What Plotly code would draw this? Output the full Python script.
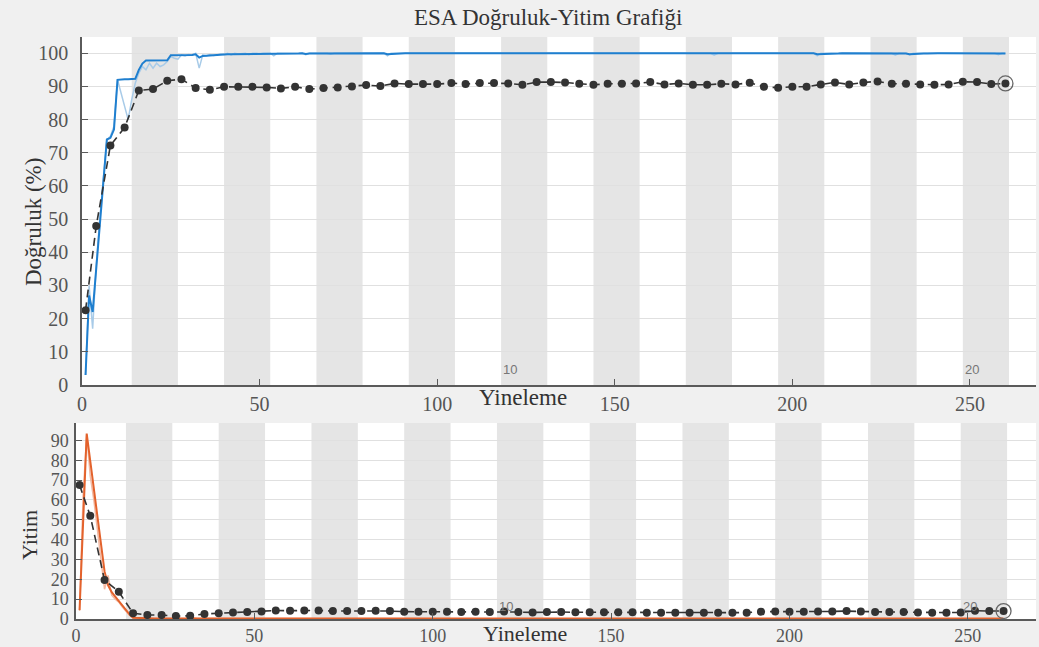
import plotly.graph_objects as go

# ---------------- data ----------------
iterations = list(range(1, 261))
iters_per_epoch = 13
n_epochs = 20
epoch_labels = ["10", "20"]
epoch_label_at = [10, 20]

acc_raw = [
    3, 30, 17, 36, 50, 63, 74, 75, 78, 92, 88, 84, 80,
    86, 91, 94, 96, 95, 97, 95.5, 97, 96, 96.5, 97.5, 99, 98.5,
    98.2, 99.5, 99.2, 99.6, 99.5, 100, 95.5, 99.5, 99.2, 99.6, 99.3, 99.5, 99.8,
    99.6, 100, 99.5, 100, 99.8, 100, 100, 99.6, 100, 100, 99.8, 100, 100,
    100, 99.2, 100, 100, 100, 99.8, 100, 100, 100, 100, 99.6, 100, 100,
    100, 100, 100, 100, 99.7, 100, 100, 100, 100, 100, 100, 100, 100,
    100, 100, 100, 100, 100, 100, 100, 99.2, 100, 100, 100, 100, 100,
    100, 100, 100, 100, 100, 99.8, 100, 100, 100, 100, 100, 100, 100,
    100, 100, 100, 100, 100, 100, 100, 100, 100, 99.8, 100, 100, 100,
    100, 100, 100, 100, 100, 100, 100, 100, 100, 100, 100, 100, 100,
    100, 100, 100, 100, 100, 100, 100, 100, 100, 100, 100, 100, 100,
    100, 100, 100, 100, 100, 100, 100, 100, 100, 100, 100, 100, 100,
    100, 100, 100, 100, 100, 100, 100, 100, 100, 100, 100, 100, 100,
    100, 100, 100, 100, 100, 100, 100, 100, 99.4, 100, 100, 100, 100,
    100, 100, 100, 100, 100, 100, 100, 100, 100, 100, 100, 100, 100,
    100, 100, 100, 100, 100, 100, 100, 100, 100, 100, 100, 99.2, 100,
    100, 100, 100, 100, 100, 100, 100, 100, 100, 100, 100, 100, 100,
    100, 100, 100, 100, 100, 100, 100, 99.4, 100, 100, 100, 99.5, 100,
    100, 100, 100, 100, 100, 100, 100, 100, 100, 100, 100, 100, 100,
    100, 100, 100, 100, 100, 100, 100, 100, 100, 100, 99.6, 100, 100,
]

acc_smooth = [
    3, 27, 22, 35, 48, 61, 74, 74.5, 77, 92, 92.2, 92.2, 92.2,
    92.2, 92.3, 95, 96.9, 97.8, 97.8, 97.8, 97.9, 97.9, 97.9, 97.9, 99.4, 99.4,
    99.5, 99.5, 99.6, 99.6, 99.5, 99.7, 98.7, 99.2, 99.3, 99.3, 99.4, 99.4, 99.5,
    99.6, 99.7, 99.7, 99.7, 99.8, 99.8, 99.8, 99.8, 99.9, 99.9, 99.9, 99.9, 99.9,
    99.9, 99.7, 99.8, 99.9, 99.9, 99.9, 99.9, 99.9, 99.9, 100, 99.8, 99.9, 99.9,
    100, 100, 100, 100, 99.9, 99.9, 100, 100, 100, 100, 100, 100, 100,
    100, 100, 100, 100, 100, 100, 100, 99.7, 99.8, 99.9, 99.9, 100, 100,
    100, 100, 100, 100, 100, 99.9, 99.9, 100, 100, 100, 100, 100, 100,
    100, 100, 100, 100, 100, 100, 100, 100, 100, 99.9, 99.9, 100, 100,
    100, 100, 100, 100, 100, 100, 100, 100, 100, 100, 100, 100, 100,
    100, 100, 100, 100, 100, 100, 100, 100, 100, 100, 100, 100, 100,
    100, 100, 100, 100, 100, 100, 100, 100, 100, 100, 100, 100, 100,
    100, 100, 100, 100, 100, 100, 100, 100, 100, 100, 100, 100, 100,
    100, 100, 100, 100, 100, 100, 100, 100, 99.8, 99.8, 99.9, 99.9, 100,
    100, 100, 100, 100, 100, 100, 100, 100, 100, 100, 100, 100, 100,
    100, 100, 100, 100, 100, 100, 100, 100, 100, 100, 100, 99.7, 99.7,
    99.8, 99.8, 99.9, 99.9, 99.9, 100, 100, 100, 100, 100, 100, 100, 100,
    100, 100, 100, 100, 100, 100, 100, 99.8, 99.8, 99.9, 99.9, 99.7, 99.8,
    99.8, 99.9, 99.9, 99.9, 100, 100, 100, 100, 100, 100, 100, 100, 100,
    100, 100, 100, 100, 100, 100, 100, 100, 100, 99.9, 99.8, 99.9, 99.9,
]

loss_raw = [
    4, 62, 93, 72, 60, 45, 30, 15, 22, 12, 10, 8.5, 6,
    4, 1.8, 0.5, 0.6, 0.4, 0.5, 0.3, 0.4, 0.2, 0.3, 0.3, 0.2, 0.3,
    0.2, 0.2, 0.3, 0.2, 0.2, 0.1, 0.6, 0.2, 0.2, 0.2, 0.2, 0.2, 0.1,
    0.1, 0.1, 0.2, 0.1, 0.1, 0.1, 0.1, 0.2, 0.1, 0.1, 0.1, 0.1, 0.1,
    0.1, 0.3, 0.1, 0.1, 0.1, 0.1, 0.1, 0.1, 0.1, 0.1, 0.2, 0.1, 0.1,
    0.1, 0.1, 0.1, 0.1, 0.1, 0.1, 0.1, 0.1, 0.1, 0.1, 0.1, 0.1, 0.1,
    0.1, 0.1, 0.1, 0.1, 0.1, 0.1, 0.1, 0.3, 0.1, 0.1, 0.1, 0.1, 0.1,
    0.1, 0.1, 0.1, 0.1, 0.1, 0.1, 0.1, 0.1, 0.1, 0.1, 0.1, 0.1, 0.1,
    0.1, 0.1, 0.1, 0.1, 0.1, 0.1, 0.1, 0.1, 0.1, 0.1, 0.1, 0.1, 0.1,
    0.1, 0.1, 0.1, 0.1, 0.1, 0.1, 0.1, 0.1, 0.1, 0.1, 0.1, 0.1, 0.1,
    0.1, 0.1, 0.1, 0.1, 0.1, 0.1, 0.1, 0.1, 0.1, 0.1, 0.1, 0.1, 0.1,
    0.1, 0.1, 0.1, 0.1, 0.1, 0.1, 0.1, 0.1, 0.1, 0.1, 0.1, 0.1, 0.1,
    0.1, 0.1, 0.1, 0.1, 0.1, 0.1, 0.1, 0.1, 0.1, 0.1, 0.1, 0.1, 0.1,
    0.1, 0.1, 0.1, 0.1, 0.1, 0.1, 0.1, 0.1, 0.2, 0.1, 0.1, 0.1, 0.1,
    0.1, 0.1, 0.1, 0.1, 0.1, 0.1, 0.1, 0.1, 0.1, 0.1, 0.1, 0.1, 0.1,
    0.1, 0.1, 0.1, 0.1, 0.1, 0.1, 0.1, 0.1, 0.1, 0.1, 0.1, 0.3, 0.1,
    0.1, 0.1, 0.1, 0.1, 0.1, 0.1, 0.1, 0.1, 0.1, 0.1, 0.1, 0.1, 0.1,
    0.1, 0.1, 0.1, 0.1, 0.1, 0.1, 0.1, 0.2, 0.1, 0.1, 0.1, 0.2, 0.1,
    0.1, 0.1, 0.1, 0.1, 0.1, 0.1, 0.1, 0.1, 0.1, 0.1, 0.1, 0.1, 0.1,
    0.1, 0.1, 0.1, 0.1, 0.1, 0.1, 0.1, 0.1, 0.1, 0.1, 0.2, 0.1, 0.1,
]

loss_smooth = [
    4.5, 49, 93.5, 79.6, 65.7, 51.8, 37.9, 24, 17, 13.5, 11.3, 9, 6.8,
    4.5, 2.3, 0.6, 0.5, 0.5, 0.4, 0.4, 0.4, 0.3, 0.3, 0.3, 0.3, 0.3,
    0.3, 0.3, 0.3, 0.3, 0.3, 0.3, 0.4, 0.3, 0.3, 0.3, 0.3, 0.3, 0.3,
    0.3, 0.3, 0.3, 0.3, 0.3, 0.3, 0.3, 0.3, 0.3, 0.3, 0.3, 0.3, 0.3,
    0.3, 0.3, 0.3, 0.3, 0.3, 0.3, 0.3, 0.3, 0.3, 0.3, 0.3, 0.3, 0.3,
    0.3, 0.3, 0.3, 0.3, 0.3, 0.3, 0.3, 0.3, 0.3, 0.3, 0.3, 0.3, 0.3,
    0.3, 0.3, 0.3, 0.3, 0.3, 0.3, 0.3, 0.3, 0.3, 0.3, 0.3, 0.3, 0.3,
    0.3, 0.3, 0.3, 0.3, 0.3, 0.3, 0.3, 0.3, 0.3, 0.3, 0.3, 0.3, 0.3,
    0.3, 0.3, 0.3, 0.3, 0.3, 0.3, 0.3, 0.3, 0.3, 0.3, 0.3, 0.3, 0.3,
    0.3, 0.3, 0.3, 0.3, 0.3, 0.3, 0.3, 0.3, 0.3, 0.3, 0.3, 0.3, 0.3,
    0.3, 0.3, 0.3, 0.3, 0.3, 0.3, 0.3, 0.3, 0.3, 0.3, 0.3, 0.3, 0.3,
    0.3, 0.3, 0.3, 0.3, 0.3, 0.3, 0.3, 0.3, 0.3, 0.3, 0.3, 0.3, 0.3,
    0.3, 0.3, 0.3, 0.3, 0.3, 0.3, 0.3, 0.3, 0.3, 0.3, 0.3, 0.3, 0.3,
    0.3, 0.3, 0.3, 0.3, 0.3, 0.3, 0.3, 0.3, 0.3, 0.3, 0.3, 0.3, 0.3,
    0.3, 0.3, 0.3, 0.3, 0.3, 0.3, 0.3, 0.3, 0.3, 0.3, 0.3, 0.3, 0.3,
    0.3, 0.3, 0.3, 0.3, 0.3, 0.3, 0.3, 0.3, 0.3, 0.3, 0.3, 0.3, 0.3,
    0.3, 0.3, 0.3, 0.3, 0.3, 0.3, 0.3, 0.3, 0.3, 0.3, 0.3, 0.3, 0.3,
    0.3, 0.3, 0.3, 0.3, 0.3, 0.3, 0.3, 0.3, 0.3, 0.3, 0.3, 0.3, 0.3,
    0.3, 0.3, 0.3, 0.3, 0.3, 0.3, 0.3, 0.3, 0.3, 0.3, 0.3, 0.3, 0.3,
    0.3, 0.3, 0.3, 0.3, 0.3, 0.3, 0.3, 0.3, 0.3, 0.3, 0.3, 0.3, 0.3,
]

val_iter = [1, 4, 8, 12, 16, 20, 24, 28, 32, 36, 40, 44, 48, 52, 56, 60, 64,
            68, 72, 76, 80, 84, 88, 92, 96, 100, 104, 108, 112, 116, 120, 124,
            128, 132, 136, 140, 144, 148, 152, 156, 160, 164, 168, 172, 176,
            180, 184, 188, 192, 196, 200, 204, 208, 212, 216, 220, 224, 228,
            232, 236, 240, 244, 248, 252, 256, 260]

val_acc = [22.5, 47.9, 72.2, 77.6, 88.8, 89.2, 91.7, 92.2, 89.5, 89.0, 89.9,
           89.9, 89.9, 89.7, 89.4, 89.9, 89.2, 89.5, 89.7, 90.0, 90.4, 90.1,
           90.9, 90.7, 90.7, 90.7, 91.0, 90.7, 91.0, 91.0, 90.9, 90.5, 91.3,
           91.3, 91.2, 90.8, 90.5, 90.8, 90.8, 90.9, 91.3, 90.6, 90.9, 90.5,
           90.5, 90.8, 90.6, 91.1, 89.9, 89.6, 89.9, 89.9, 90.6, 91.2, 90.6,
           91.2, 91.5, 90.8, 90.8, 90.6, 90.5, 90.6, 91.4, 91.3, 90.7, 90.9]

val_loss = [67.5, 52.0, 19.6, 13.7, 2.9, 2.0, 2.0, 1.5, 1.6, 2.5, 2.9, 3.3,
            3.5, 3.8, 4.3, 4.2, 4.3, 4.3, 4.0, 4.0, 4.0, 4.2, 4.0, 3.7, 3.7,
            3.7, 3.7, 3.5, 3.7, 3.5, 3.8, 3.5, 3.3, 3.5, 3.5, 3.4, 3.4, 3.4,
            3.4, 3.4, 3.2, 3.2, 3.2, 3.2, 3.2, 3.2, 3.2, 3.2, 3.7, 3.8, 3.7,
            3.7, 3.8, 3.8, 4.0, 3.8, 3.5, 3.5, 3.5, 3.3, 3.2, 3.2, 3.3, 4.2,
            4.0, 4.0]

x_ticks = [0, 50, 100, 150, 200, 250]
acc_ticks = [0, 10, 20, 30, 40, 50, 60, 70, 80, 90, 100]
loss_ticks = [0, 10, 20, 30, 40, 50, 60, 70, 80, 90]

title_text = "ESA Doğruluk-Yitim Grafiği"
acc_label = "Doğruluk (%)"
loss_label = "Yitim"
x_label = "Yineleme"

# ---------------- styles ----------------
W, H = 1039, 647
SERIF = "Liberation Serif, Times New Roman, serif"
BLUE = "#1f7fcf"
LIGHT_BLUE = "#a8cbe8"
ORANGE = "#e3622c"
LIGHT_ORANGE = "#f3b9a2"
DARK = "#333333"
BAND = "#e5e5e5"
GRID = "#e0e0e0"
AXIS = "#5a5a5a"
TICKC = "#555555"

fig = go.Figure()

# Top panel
fig.add_trace(go.Scatter(x=iterations, y=acc_raw, mode="lines",
                         line=dict(color=LIGHT_BLUE, width=1.5),
                         xaxis="x", yaxis="y", showlegend=False))
fig.add_trace(go.Scatter(x=iterations, y=acc_smooth, mode="lines",
                         line=dict(color=BLUE, width=2),
                         xaxis="x", yaxis="y", showlegend=False))
fig.add_trace(go.Scatter(x=val_iter, y=val_acc, mode="lines+markers",
                         line=dict(color=DARK, width=1.6, dash="8px,5px"),
                         marker=dict(color=DARK, size=8),
                         xaxis="x", yaxis="y", showlegend=False))
fig.add_trace(go.Scatter(x=val_iter[-1:], y=val_acc[-1:], mode="markers",
                         marker=dict(symbol="circle-open", color="#666", size=15,
                                     line=dict(width=1.3)),
                         xaxis="x", yaxis="y", showlegend=False, cliponaxis=False))

# Bottom panel
fig.add_trace(go.Scatter(x=iterations, y=loss_raw, mode="lines",
                         line=dict(color=LIGHT_ORANGE, width=1.5),
                         xaxis="x2", yaxis="y2", showlegend=False))
fig.add_trace(go.Scatter(x=iterations, y=loss_smooth, mode="lines",
                         line=dict(color=ORANGE, width=2),
                         xaxis="x2", yaxis="y2", showlegend=False))
fig.add_trace(go.Scatter(x=val_iter, y=val_loss, mode="lines+markers",
                         line=dict(color=DARK, width=1.6, dash="8px,5px"),
                         marker=dict(color=DARK, size=8),
                         xaxis="x2", yaxis="y2", showlegend=False))
fig.add_trace(go.Scatter(x=val_iter[-1:], y=val_loss[-1:], mode="markers",
                         marker=dict(symbol="circle-open", color="#666", size=15,
                                     line=dict(width=1.3)),
                         xaxis="x2", yaxis="y2", showlegend=False, cliponaxis=False))

# epoch shading (every second epoch)
shapes = []
for e in range(2, n_epochs + 1, 2):
    start = iters_per_epoch * (e - 1) + 1
    end = iters_per_epoch * e + 1
    for xr, yr in (("x", "y domain"), ("x2", "y2 domain")):
        shapes.append(dict(type="rect", xref=xr, yref=yr, x0=start, x1=end,
                           y0=0, y1=1, fillcolor=BAND, line=dict(width=0),
                           layer="below"))

annotations = []
for lab, e in zip(epoch_labels, epoch_label_at):
    xpos = iters_per_epoch * (e - 1) + 3.5
    annotations.append(dict(x=xpos, y=0.045, xref="x", yref="y domain",
                            text=lab, showarrow=False, xanchor="center", yanchor="middle",
                            font=dict(family="Liberation Sans, Arial", size=13, color="#777")))
    annotations.append(dict(x=xpos, y=0.065, xref="x2", yref="y2 domain",
                            text=lab, showarrow=False, xanchor="center", yanchor="middle",
                            font=dict(family="Liberation Sans, Arial", size=13, color="#777")))

def px(x):
    return x / W

def py(y):
    return 1 - y / H

def label(x, y, text, size, angle=0):
    return dict(x=px(x), y=py(y), xref="paper", yref="paper", text=text,
                textangle=angle, showarrow=False, xanchor="center", yanchor="middle",
                font=dict(family=SERIF, size=size, color="#333"))

annotations += [
    label(548, 18, title_text, 23),
    label(33, 222, acc_label, 23, -90),
    label(29, 535, loss_label, 22, -90),
    label(523, 398, x_label, 23),
    label(525, 633, x_label, 22),
]

top_font = dict(family=SERIF, size=20, color=TICKC)
bot_font = dict(family=SERIF, size=18, color=TICKC)
common_x = dict(showgrid=False, zeroline=False, showline=True, linecolor=AXIS,
                linewidth=1.5, ticks="inside", ticklen=6, tickcolor=AXIS,
                tickvals=x_ticks, automargin=False)
common_y = dict(showgrid=True, gridcolor=GRID, gridwidth=1.2, zeroline=False,
                showline=True, linecolor=AXIS, linewidth=1.5, ticks="inside",
                ticklen=6, tickcolor=AXIS, automargin=False)

fig.update_layout(
    width=W, height=H,
    margin=dict(l=0, r=0, t=0, b=0, pad=0),
    paper_bgcolor="#f0f0f0",
    plot_bgcolor="white",
    xaxis=dict(domain=[px(82), px(1036)], range=[0, 268.6], anchor="y",
               tickfont=top_font, **common_x),
    yaxis=dict(domain=[py(385), py(37)], range=[0, 104.9], anchor="x",
               tickvals=acc_ticks, ticklabelstandoff=8, tickfont=top_font, **common_y),
    xaxis2=dict(domain=[px(76), px(1036)], range=[0, 269.1], anchor="y2",
                tickfont=bot_font, ticklabelstandoff=0, **common_x),
    yaxis2=dict(domain=[py(619), py(423)], range=[0, 98.8], anchor="x2",
                tickvals=loss_ticks, ticklabelstandoff=2, tickfont=bot_font, **common_y),
    shapes=shapes,
    annotations=annotations,
    showlegend=False,
)

fig.write_html("out.html", config={"displayModeBar": False},
               post_script="document.body.style.margin='0';document.body.style.overflow='hidden';")
